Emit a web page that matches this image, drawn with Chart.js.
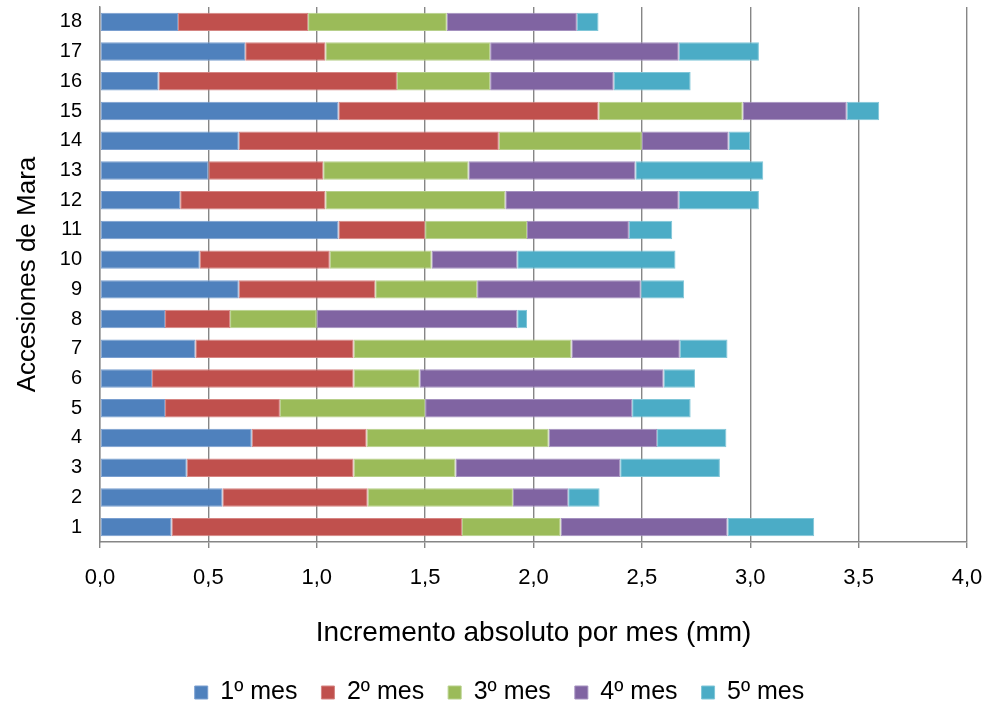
<!DOCTYPE html>
<html lang="es">
<head>
<meta charset="UTF-8">
<title>Incremento absoluto por mes</title>
<script src="https://cdn.jsdelivr.net/npm/chart.js"></script>
<style>
    html, body { margin: 0; padding: 0; background: #FFFFFF; }
    .chart-box { width: 992px; height: 708px; position: relative; }
</style>
</head>
<body>
<div class="chart-box">
    <canvas id="maraChart"></canvas>
</div>
<script>
    // Datos (accesiones 1..18)
    const accesiones = ['1','2','3','4','5','6','7','8','9','10','11','12','13','14','15','16','17','18'];
    const mes1 = [0.33, 0.565, 0.40, 0.70, 0.30, 0.24, 0.44, 0.30, 0.64, 0.46, 1.10, 0.37, 0.50, 0.64, 1.10, 0.27, 0.67, 0.36];
    const mes2 = [1.34, 0.67, 0.77, 0.53, 0.53, 0.93, 0.73, 0.30, 0.63, 0.60, 0.40, 0.67, 0.53, 1.20, 1.20, 1.10, 0.37, 0.60];
    const mes3 = [0.455, 0.67, 0.47, 0.84, 0.67, 0.305, 1.005, 0.40, 0.47, 0.47, 0.47, 0.83, 0.67, 0.66, 0.665, 0.43, 0.76, 0.64];
    const mes4 = [0.77, 0.255, 0.76, 0.50, 0.955, 1.125, 0.50, 0.925, 0.755, 0.395, 0.47, 0.80, 0.77, 0.40, 0.48, 0.57, 0.87, 0.60];
    const mes5 = [0.40, 0.145, 0.46, 0.32, 0.27, 0.145, 0.22, 0.045, 0.20, 0.73, 0.20, 0.37, 0.59, 0.10, 0.15, 0.355, 0.37, 0.10];
    const leyenda = ['1º mes', '2º mes', '3º mes', '4º mes', '5º mes'];
    const xTickLabels = ['0,0', '0,5', '1,0', '1,5', '2,0', '2,5', '3,0', '3,5', '4,0'];

    const colores = ['#4F81BD', '#C0504D', '#9BBB59', '#8064A2', '#4BACC6'];
    const bordes = ['#7A9FD0', '#D58583', '#B7D08B', '#A491BF', '#80C6D8'];
    const fuente = "'Liberation Sans', Arial, sans-serif";

    const series = [mes1, mes2, mes3, mes4, mes5];

    new Chart(document.getElementById('maraChart'), {
        type: 'bar',
        data: {
            labels: accesiones,
            datasets: series.map((vals, i) => ({
                label: leyenda[i],
                data: vals,
                backgroundColor: colores[i],
                borderColor: bordes[i],
                borderWidth: 1,
                borderSkipped: false,
                barPercentage: 0.62,
                categoryPercentage: 1.0
            }))
        },
        options: {
            indexAxis: 'y',
            responsive: true,
            maintainAspectRatio: false,
            animation: false,
            // left 32 para centrar la leyenda como en el original
            layout: { padding: { left: 32, right: 25, top: 7, bottom: -7 } },
            scales: {
                x: {
                    stacked: true,
                    min: 0,
                    max: 4,
                    ticks: {
                        stepSize: 0.5,
                        color: '#000000',
                        padding: 17,
                        font: { family: fuente, size: 22 },
                        callback: (v, idx) => xTickLabels[idx]
                    },
                    grid: { color: '#868686', lineWidth: 1.4, tickLength: 6 },
                    border: { color: '#868686', width: 1.4 },
                    title: {
                        display: true,
                        text: 'Incremento absoluto por mes (mm)',
                        color: '#000000',
                        font: { family: fuente, size: 28 },
                        padding: { top: 0, bottom: 6 }
                    },
                    afterFit: (scale) => {
                        // eje inferior en y = 542
                        scale.height = 715 - scale.chart.legend.height - 542;
                        scale.paddingLeft = 0;
                        scale.paddingRight = 0;
                    }
                },
                y: {
                    stacked: true,
                    reverse: true,
                    ticks: {
                        color: '#000000',
                        padding: 18,
                        font: { family: fuente, size: 20 }
                    },
                    grid: { drawOnChartArea: false, drawTicks: false },
                    border: { color: '#868686', width: 1.4 },
                    title: {
                        display: true,
                        text: 'Accesiones de Mara',
                        color: '#000000',
                        font: { family: fuente, size: 26 },
                        padding: { top: -20, bottom: 0 }
                    },
                    afterFit: (scale) => {
                        scale.width = 68;
                        scale.paddingTop = 0;
                        scale.paddingBottom = 0;
                    }
                }
            },
            plugins: {
                legend: {
                    position: 'bottom',
                    labels: {
                        color: '#000000',
                        boxWidth: 13,
                        boxHeight: 13,
                        padding: 24,
                        font: { family: fuente, size: 25 }
                    }
                },
                tooltip: { enabled: false }
            }
        }
    });
</script>
</body>
</html>
